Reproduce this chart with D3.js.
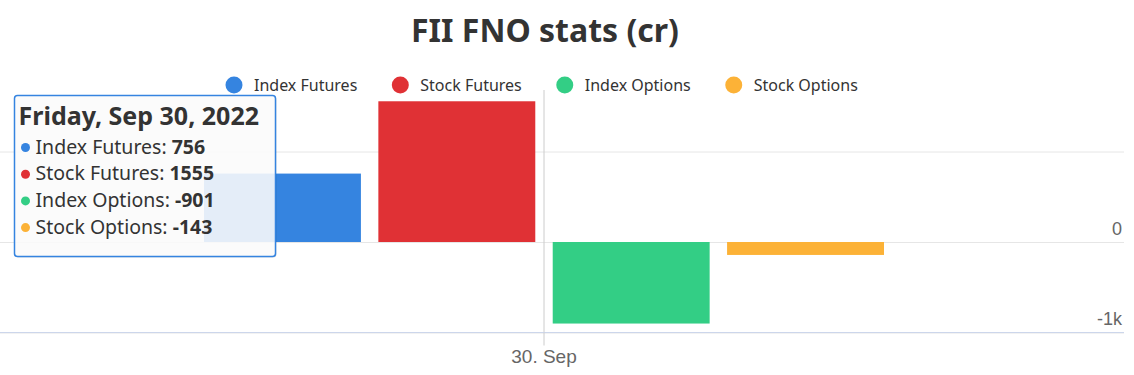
<!DOCTYPE html>
<html>
<head>
<meta charset="utf-8">
<script src="https://cdn.jsdelivr.net/npm/d3@7"></script>
<style>
  body { margin: 0; background: #fff; }
  svg { display: block; font-family: "Noto Sans", "Open Sans", sans-serif; }
</style>
</head>
<body>
<svg width="1134" height="375"></svg>
<script>
// data
var dates = ["2022-09-30"];
var seriesNames = ["Index Futures", "Stock Futures", "Index Options", "Stock Options"];
var seriesColors = ["#3584e0", "#e03135", "#33ce85", "#fcb237"];
var values = [756, 1555, -901, -143];
var yTicks = [-1000, 0, 1000];
var yTickLabels = ["-1k", "0", ""];
var xTickLabels = ["30. Sep"];
var tooltipTitle = "Friday, Sep 30, 2022";

var svg = d3.select("svg");

var plot = {left: 0, right: 1088, gridRight: 1124};

// y: 0 at 242, 1000 units ~ 90.5px
var y = d3.scaleLinear()
    .domain([-1000, 1000])
    .range([332.5, 151.5]);

var x = d3.scaleBand()
    .domain(dates)
    .range([plot.left, plot.right])
    .paddingInner(0)
    .paddingOuter(0.3);

var xs = d3.scaleBand()
    .domain(seriesNames)
    .range([0, x.bandwidth()])
    .paddingInner(0.1)
    .paddingOuter(0);

// title
svg.append("text")
    .attr("x", 545)
    .attr("y", 42)
    .attr("text-anchor", "middle")
    .style("font-size", "32px")
    .style("font-weight", "bold")
    .style("fill", "#333333")
    .text("FII FNO stats (cr)");

// y gridlines + labels (right side)
var yAxis = svg.append("g")
    .call(d3.axisRight(y)
        .tickValues(yTicks)
        .tickSize(plot.gridRight)
        .tickFormat(function (d, i) { return yTickLabels[i]; }));
yAxis.select(".domain").remove();
yAxis.selectAll(".tick line")
    .attr("stroke", "#e6e6e6")
    .attr("stroke-width", 1);
yAxis.selectAll(".tick text")
    .attr("x", 1122)
    .attr("dy", "-0.42em")
    .attr("text-anchor", "end")
    .style("font-size", "18px")
    .style("fill", "#666666");

// crosshair
var cx = x(dates[0]) + x.bandwidth() / 2;
svg.append("line")
    .attr("x1", cx).attr("x2", cx)
    .attr("y1", 90).attr("y2", 332)
    .attr("stroke", "#cccccc")
    .attr("stroke-width", 1);

// bars
var g = svg.append("g")
    .attr("transform", "translate(" + x(dates[0]) + ",0)");
g.selectAll("rect")
    .data(values)
    .enter()
    .append("rect")
    .attr("x", function (d, i) { return xs(seriesNames[i]); })
    .attr("y", function (d) { return y(Math.max(0, d)); })
    .attr("width", xs.bandwidth())
    .attr("height", function (d) { return Math.abs(y(d) - y(0)); })
    .attr("fill", function (d, i) { return seriesColors[i]; });

// x axis
var xAxis = svg.append("g")
    .attr("transform", "translate(0,332.5)")
    .call(d3.axisBottom(x)
        .tickSize(13)
        .tickFormat(function (d, i) { return xTickLabels[i]; }));
xAxis.select(".domain")
    .attr("d", "M0,0H" + plot.gridRight)
    .attr("stroke", "#ccd6eb");
xAxis.selectAll(".tick line").attr("stroke", "#cccccc");
xAxis.selectAll(".tick text")
    .attr("y", 17)
    .attr("dy", "0.71em")
    .style("font-size", "19px")
    .style("fill", "#666666");

// legend
var legend = svg.append("g").attr("transform", "translate(0,85)");
var lx = 226;
seriesNames.forEach(function (name, i) {
    var item = legend.append("g").attr("transform", "translate(" + lx + ",0)");
    item.append("circle")
        .attr("cx", 8).attr("cy", 0).attr("r", 8.5)
        .attr("fill", seriesColors[i]);
    var t = item.append("text")
        .attr("x", 28).attr("y", 6)
        .style("font-size", "16px")
        .style("fill", "#333333")
        .text(name);
    lx += 28 + t.node().getComputedTextLength() + 35;
});

// tooltip
var tip = svg.append("g").attr("transform", "translate(14.5,95.5)");
tip.append("rect")
    .attr("x", 1).attr("y", 1)
    .attr("width", 261).attr("height", 161)
    .attr("rx", 3)
    .attr("fill", "rgba(0,0,0,0.12)");
tip.append("rect")
    .attr("width", 261).attr("height", 161)
    .attr("rx", 3)
    .attr("fill", "rgba(255,255,255,0.87)")
    .attr("stroke", "#3584e0")
    .attr("stroke-width", 1.5);
tip.append("text")
    .attr("x", 4).attr("y", 29)
    .style("font-size", "25px")
    .style("font-weight", "bold")
    .style("fill", "#333333")
    .text(tooltipTitle);
values.forEach(function (v, i) {
    var yy = 58 + i * 26.7;
    tip.append("circle")
        .attr("cx", 11).attr("cy", yy - 6).attr("r", 4.5)
        .attr("fill", seriesColors[i]);
    var t = tip.append("text")
        .attr("x", 21).attr("y", yy)
        .style("font-size", "19.5px")
        .style("fill", "#333333");
    t.append("tspan").text(seriesNames[i] + ": ");
    t.append("tspan").style("font-weight", "bold").text(v);
});
</script>
</body>
</html>
